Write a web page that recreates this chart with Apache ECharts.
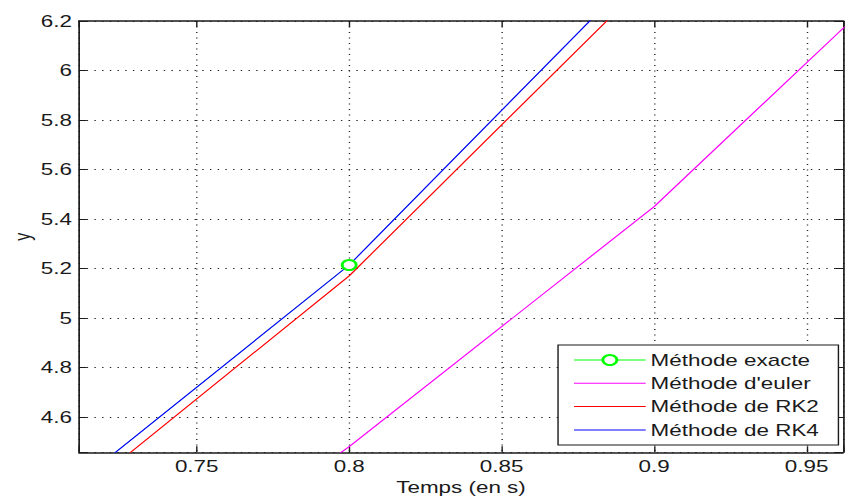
<!DOCTYPE html>
<html>
<head>
<meta charset="utf-8">
<script src="https://cdn.jsdelivr.net/npm/echarts@6/dist/echarts.min.js"></script>
<style>
  html, body { margin: 0; padding: 0; background: #fff; overflow: hidden; }
  /* The figure is laid out on a narrower canvas and widened horizontally */
  #chart { width: 604px; height: 498px; transform: scaleX(1.4007); transform-origin: 0 0; }
</style>
</head>
<body>
<div id="chart"></div>
<script>
// Time samples (step h = 0.1)
const temps = [0.7, 0.8, 0.9, 1.0];

// Solution values at each time sample
const exacte = [4.226, 5.214, 6.464];
const euler  = [3.600, 4.480, 5.450, 6.613];
const rk2    = [4.175, 5.170, 6.390];
const rk4    = [4.226, 5.214, 6.464];

const seriesNames = ['Méthode exacte', "Méthode d'euler", 'Méthode de RK2', 'Méthode de RK4'];
const seriesColors = ['#00ff00', '#ff00ff', '#ff0000', '#0000ff'];

// Visible window of the axes
const xRange = [0.7114, 0.9619];
const yRange = [4.457, 6.2];
const xStep = 0.05;
const yStep = 0.2;

const FONT = "'Liberation Sans', Arial, sans-serif";
const INK = '#1a1a1a';

function pairs(values) {
  return values.map((v, i) => [temps[i], v]);
}

// Only label values lying on the regular tick grid
function stepLabel(step) {
  return function (value) {
    const k = value / step;
    if (Math.abs(k - Math.round(k)) > 1e-6) return '';
    return String(Number(value.toFixed(4)));
  };
}

const dotted = { color: '#222', width: 1, type: [1, 4.5] };

function xAxis(position, main) {
  return {
    type: 'value', position: position,
    min: xRange[0], max: xRange[1], splitNumber: 5,
    axisLine: { show: true, onZero: false, lineStyle: { color: INK, width: 1.5 } },
    axisTick: { show: true, inside: true, length: 6, lineStyle: { color: INK, width: 1 } },
    axisLabel: { show: main, margin: 6, color: INK, fontFamily: FONT, fontSize: 16, formatter: stepLabel(xStep) },
    splitLine: { show: main, lineStyle: dotted },
    name: main ? 'Temps (en s)' : '',
    nameLocation: 'middle', nameGap: 27, nameMoveOverlap: false,
    nameTextStyle: { color: INK, fontFamily: FONT, fontSize: 16 }
  };
}

function yAxis(position, main) {
  return {
    type: 'value', position: position,
    min: yRange[0], max: yRange[1], splitNumber: 9,
    axisLine: { show: true, onZero: false, lineStyle: { color: INK, width: 1.2 } },
    axisTick: { show: true, inside: true, length: 5.5, lineStyle: { color: INK, width: 1 } },
    axisLabel: { show: main, margin: 5, color: INK, fontFamily: FONT, fontSize: 16, formatter: stepLabel(yStep) },
    splitLine: { show: main, lineStyle: dotted },
    name: main ? 'y' : '',
    nameLocation: 'middle', nameGap: 33, nameMoveOverlap: false,
    nameTextStyle: { color: INK, fontFamily: FONT, fontSize: 16 }
  };
}

const chart = echarts.init(document.getElementById('chart'), null, { renderer: 'svg' });

chart.setOption({
  animation: false,
  backgroundColor: '#fff',
  grid: { left: 56.4, right: 2.2, top: 21, bottom: 45.7, containLabel: false, outerBoundsMode: 'none' },
  xAxis: [xAxis('bottom', true), xAxis('top', false)],
  yAxis: [yAxis('left', true), yAxis('right', false)],
  legend: {
    orient: 'vertical',
    left: 398.4, top: 345,
    padding: [7, 14, 7, 10.9],
    itemWidth: 51.2, itemHeight: 12.5, itemGap: 7.3,
    backgroundColor: '#fff', borderColor: INK, borderWidth: 1, borderRadius: 0,
    lineStyle: { width: 1 },
    textStyle: { color: INK, fontFamily: FONT, fontSize: 16, lineHeight: 16, padding: [0, 0, 0, -1.5] },
    data: [
      { name: seriesNames[0] },
      { name: seriesNames[1], itemStyle: { opacity: 0 } },
      { name: seriesNames[2], itemStyle: { opacity: 0 } },
      { name: seriesNames[3], itemStyle: { opacity: 0 } }
    ]
  },
  series: [
    {
      // exact solution sits underneath RK4, only its markers stand out
      name: seriesNames[0], type: 'line', data: pairs(exacte),
      symbol: 'emptyCircle', symbolSize: 10, showSymbol: true,
      lineStyle: { color: seriesColors[0], width: 0.5 },
      itemStyle: { color: seriesColors[0], borderColor: seriesColors[0], borderWidth: 1.2 },
      emphasis: { disabled: true }
    },
    {
      name: seriesNames[1], type: 'line', data: pairs(euler), symbol: 'none',
      lineStyle: { color: seriesColors[1], width: 1 }, itemStyle: { color: seriesColors[1] },
      emphasis: { disabled: true }
    },
    {
      name: seriesNames[2], type: 'line', data: pairs(rk2), symbol: 'none',
      lineStyle: { color: seriesColors[2], width: 1 }, itemStyle: { color: seriesColors[2] },
      emphasis: { disabled: true }
    },
    {
      name: seriesNames[3], type: 'line', data: pairs(rk4), symbol: 'none',
      lineStyle: { color: seriesColors[3], width: 1 }, itemStyle: { color: seriesColors[3] },
      emphasis: { disabled: true }
    }
  ]
});
</script>
</body>
</html>
